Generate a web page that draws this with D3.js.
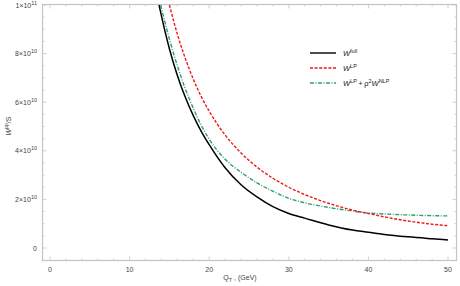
<!DOCTYPE html>
<html>
<head>
<meta charset="utf-8">
<script src="https://cdn.jsdelivr.net/npm/d3@7"></script>
<style>
body { margin: 0; background: #fff; }
svg { font-family: "Liberation Sans", "DejaVu Sans", sans-serif; }
.tick-label { font-size: 7px; fill: #444; }
</style>
</head>
<body>
<div id="chart"></div>
<script>
// Q_T values (GeV) and curves, in units of 1e9
const qFull = [13.7, 14, 15, 16, 17, 18, 19, 20, 22, 24, 26, 28, 30, 32, 35, 38, 40, 42, 45, 48, 50];
const wFull = [100, 95.5, 82, 71, 62, 54.5, 48, 42.5, 33, 26, 21, 17, 14.2, 12.3, 9.5, 7.4, 6.5, 5.6, 4.6, 3.8, 3.3];

const qLP = [15, 16, 17, 18, 19, 20, 22, 24, 26, 28, 30, 32, 35, 38, 40, 42, 45, 48, 50];
const wLP = [100, 88, 78, 69.5, 62.3, 56.3, 46.5, 39.1, 33.3, 28.7, 25, 22, 18.4, 15.6, 14.2, 12.8, 11.1, 9.8, 9.2];

const qNLP = [13.9, 15, 16, 17, 18, 19, 20, 22, 24, 26, 28, 30, 32, 35, 38, 40, 42, 45, 48, 50];
const wNLP = [100, 86, 75, 65.5, 57.5, 50.5, 44.8, 36.5, 31.2, 26.8, 23.4, 20.4, 18.6, 16.7, 15.2, 14.4, 14, 13.6, 13.3, 13.2];

const xTicks = [0, 10, 20, 30, 40, 50];
const yTicks = [0, 20, 40, 60, 80, 100];
const yTickMantissa = ["0", "2", "4", "6", "8", "1"];
const yTickExp = ["", "10", "10", "10", "10", "11"];

const width = 460, height = 286;
const frame = {left: 42.5, right: 456.5, top: 4.5, bottom: 260.5};

const x = d3.scaleLinear().domain([0, 50]).range([50, 448]);
const y = d3.scaleLinear().domain([0, 100]).range([248, 5]);

const svg = d3.select("#chart").append("svg")
    .attr("width", width)
    .attr("height", height);

const frameColor = "#c4c4c4";

// frame
svg.append("rect")
    .attr("x", frame.left)
    .attr("y", frame.top)
    .attr("width", frame.right - frame.left)
    .attr("height", frame.bottom - frame.top)
    .attr("fill", "none")
    .attr("stroke", frameColor)
    .attr("stroke-width", 1.2);

// ticks on all four sides, pointing inward
const tickG = svg.append("g").attr("stroke", frameColor).attr("stroke-width", 0.8);
const xMinor = d3.range(0, 50.01, 2).filter(v => v % 10 !== 0);
const yMinor = d3.range(0, 100.01, 5).filter(v => v % 20 !== 0);

const vTick = (v, len) => {
    tickG.append("line").attr("x1", x(v)).attr("x2", x(v)).attr("y1", frame.bottom).attr("y2", frame.bottom - len);
    tickG.append("line").attr("x1", x(v)).attr("x2", x(v)).attr("y1", frame.top).attr("y2", frame.top + len);
};
const hTick = (v, len) => {
    tickG.append("line").attr("x1", frame.left).attr("x2", frame.left + len).attr("y1", y(v)).attr("y2", y(v));
    tickG.append("line").attr("x1", frame.right).attr("x2", frame.right - len).attr("y1", y(v)).attr("y2", y(v));
};
xTicks.forEach(v => vTick(v, 4));
xMinor.forEach(v => vTick(v, 2));
yTicks.forEach(v => hTick(v, 4));
yMinor.forEach(v => hTick(v, 2));

// x tick labels
svg.append("g").selectAll("text")
    .data(xTicks)
    .enter()
    .append("text")
    .attr("class", "tick-label")
    .attr("x", d => x(d))
    .attr("y", 272)
    .attr("text-anchor", "middle")
    .text(d => d);

// y tick labels
yTicks.forEach((v, i) => {
    const t = svg.append("text")
        .attr("class", "tick-label")
        .attr("x", 37)
        .attr("y", y(v) + 2.5)
        .attr("text-anchor", "end");
    if (yTickExp[i] === "") {
        t.text(yTickMantissa[i]);
    } else {
        t.append("tspan").text(yTickMantissa[i] + "\u00d710");
        t.append("tspan").attr("dy", -3).attr("font-size", "5.5px").text(yTickExp[i]);
    }
});

// axis labels
const xl = svg.append("text")
    .attr("class", "tick-label")
    .attr("x", 240)
    .attr("y", 280)
    .attr("text-anchor", "middle");
xl.append("tspan").text("Q");
xl.append("tspan").attr("dy", 1.5).attr("font-size", "5.5px").text("T");
xl.append("tspan").attr("dy", -1.5).text(" , (GeV)");

const yl = svg.append("text")
    .attr("class", "tick-label")
    .attr("transform", "translate(11,126) rotate(-90)")
    .attr("text-anchor", "middle");
yl.append("tspan").attr("font-style", "italic").text("W");
yl.append("tspan").attr("dy", -3).attr("font-size", "5px").text("pp");
yl.append("tspan").attr("dy", 3).text("/S");

// curves
svg.append("clipPath").attr("id", "plot-clip")
    .append("rect")
    .attr("x", frame.left).attr("y", y(100))
    .attr("width", frame.right - frame.left).attr("height", frame.bottom - y(100));

const line = d3.line()
    .x(d => x(d[0]))
    .y(d => y(d[1]))
    .curve(d3.curveMonotoneX);

const series = [
    {q: qNLP, w: wNLP, color: "#2e9e6e", dash: "4,1.5,1,1.5", width: 1.4},
    {q: qLP, w: wLP, color: "#f01818", dash: "3,1.6", width: 1.4},
    {q: qFull, w: wFull, color: "#000", dash: null, width: 1.5}
];

series.forEach(s => {
    svg.append("path")
        .datum(d3.zip(s.q, s.w))
        .attr("clip-path", "url(#plot-clip)")
        .attr("fill", "none")
        .attr("stroke", s.color)
        .attr("stroke-width", s.width)
        .attr("stroke-dasharray", s.dash)
        .attr("d", line);
});

// legend: each part is [base, superscript]
const legendItems = [
    {color: "#000", dash: null, parts: [["W", "full"]]},
    {color: "#f01818", dash: "3,1.6", parts: [["W", "LP"]]},
    {color: "#2e9e6e", dash: "4,1.5,1,1.5", parts: [["W", "LP"], ["\u2009+\u2009\u03c1", "2"], ["W", "NLP"]]}
];
const legendY = [53, 68, 83];
legendItems.forEach((item, i) => {
    svg.append("line")
        .attr("x1", 310).attr("x2", 336)
        .attr("y1", legendY[i]).attr("y2", legendY[i])
        .attr("stroke", item.color)
        .attr("stroke-width", 1.4)
        .attr("stroke-dasharray", item.dash);
    const t = svg.append("text")
        .attr("x", 343)
        .attr("y", legendY[i] + 2.5)
        .attr("font-size", "7.5px")
        .attr("fill", "#222")
        .attr("xml:space", "preserve");
    item.parts.forEach(p => {
        t.append("tspan")
            .attr("y", legendY[i] + 2.5)
            .attr("font-style", p[0] === "W" ? "italic" : "normal")
            .text(p[0]);
        t.append("tspan")
            .attr("y", legendY[i] - 0.5)
            .attr("font-size", "5.5px")
            .text(p[1]);
    });
});
</script>
</body>
</html>
